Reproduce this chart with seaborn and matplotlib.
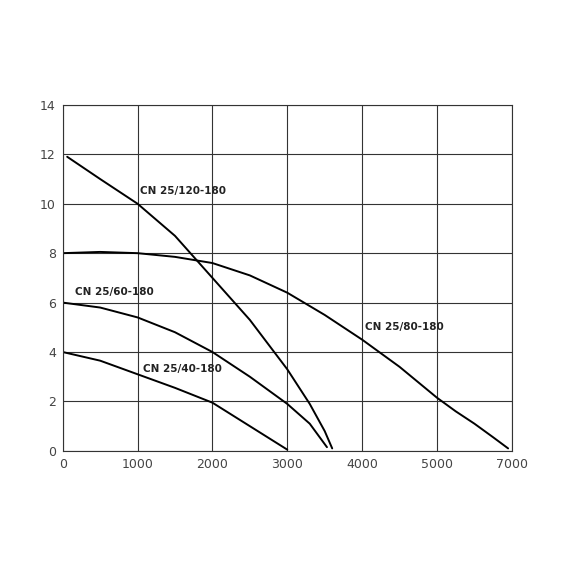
import matplotlib
matplotlib.use("Agg")
import matplotlib.pyplot as plt
import seaborn as sns
import pandas as pd
import numpy as np

q120 = [60, 500, 1000, 1500, 2000, 2500, 3000, 3300, 3500, 3600]
h120 = [11.9, 11.0, 10.0, 8.7, 7.0, 5.3, 3.3, 1.9, 0.8, 0.1]
q80 = [0, 500, 1000, 1500, 2000, 2500, 3000, 3500, 4000, 4500, 5000, 5500, 6000, 6500, 6900]
h80 = [8.0, 8.05, 8.0, 7.85, 7.6, 7.1, 6.4, 5.5, 4.5, 3.4, 2.15, 1.6, 1.1, 0.55, 0.1]
q60 = [0, 500, 1000, 1500, 2000, 2500, 3000, 3300, 3530]
h60 = [6.0, 5.8, 5.4, 4.8, 4.0, 3.0, 1.9, 1.1, 0.15]
q40 = [0, 500, 1000, 1500, 2000, 2500, 3000]
h40 = [4.0, 3.65, 3.1, 2.55, 1.95, 1.0, 0.05]
labels = ["CN 25/120-180", "CN 25/80-180", "CN 25/60-180", "CN 25/40-180"]
label_pos = [(1030, 10.4), (4040, 4.9), (160, 6.3), (1070, 3.2)]
xticks = [0, 1000, 2000, 3000, 4000, 5000, 7000]

def fwd(x):
    x = np.asarray(x, dtype=float)
    return np.where(x <= 5000, x, 5000 + (x - 5000) / 2)

def inv(x):
    x = np.asarray(x, dtype=float)
    return np.where(x <= 5000, x, 5000 + (x - 5000) * 2)

frames = []
for name, q, h in zip(labels, [q120, q80, q60, q40], [h120, h80, h60, h40]):
    frames.append(pd.DataFrame({"q": q, "h": h, "pump": name}))
df = pd.concat(frames)

sns.set_style("white")
fig = plt.figure(figsize=(5.7, 5.7), dpi=100)
ax = fig.add_axes([0.11, 0.209, 0.788, 0.607])
ax.set_xscale("function", functions=(fwd, inv))
sns.lineplot(data=df, x="q", y="h", units="pump", estimator=None, color="black",
             linewidth=1.4, ax=ax, sort=False)
ax.set_xlim(0, 7000)
ax.set_ylim(0, 14)
ax.set_xticks(xticks)
ax.set_xticklabels([str(t) for t in xticks])
ax.set_xticks([], minor=True)
ax.set_yticks(range(0, 15, 2))
ax.grid(True, color="#333333", linewidth=0.8)
for s in ax.spines.values():
    s.set_color("#333333")
    s.set_linewidth(0.8)
ax.tick_params(length=0, labelsize=9, colors="#444444", pad=5)
ax.set_xlabel("")
ax.set_ylabel("")
for t, (x, y) in zip(labels, label_pos):
    ax.text(x, y, t, fontsize=7.5, fontweight="bold", color="#222222")
fig.savefig("out.png", dpi=100)
